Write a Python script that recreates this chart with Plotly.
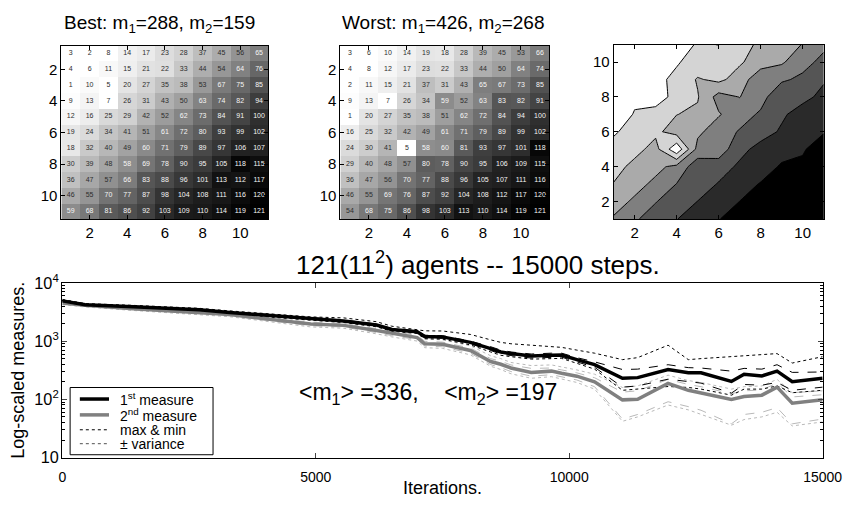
import plotly.graph_objects as go

FONT = "Liberation Sans, Arial, sans-serif"

# ---------------- data ----------------
grid = list(range(1, 12))

best = [
    [3, 2, 8, 14, 17, 23, 28, 37, 45, 56, 65],
    [4, 6, 11, 15, 21, 22, 33, 44, 54, 64, 76],
    [1, 10, 5, 20, 27, 35, 38, 53, 67, 75, 85],
    [9, 13, 7, 26, 31, 43, 50, 63, 74, 82, 94],
    [12, 16, 25, 29, 42, 52, 62, 73, 84, 91, 100],
    [19, 24, 34, 41, 51, 61, 72, 80, 93, 99, 102],
    [18, 32, 40, 49, 60, 71, 79, 89, 97, 106, 107],
    [30, 39, 48, 58, 69, 78, 90, 95, 105, 118, 115],
    [36, 47, 57, 66, 83, 88, 96, 101, 113, 112, 117],
    [46, 55, 70, 77, 87, 98, 104, 108, 111, 116, 120],
    [59, 68, 81, 86, 92, 103, 109, 110, 114, 119, 121],
]

worst = [
    [3, 6, 10, 14, 19, 18, 28, 39, 45, 53, 66],
    [4, 8, 12, 17, 23, 22, 33, 44, 50, 64, 74],
    [2, 11, 15, 21, 37, 31, 43, 65, 67, 73, 85],
    [9, 13, 7, 26, 34, 59, 52, 63, 83, 82, 91],
    [1, 20, 27, 35, 38, 51, 62, 72, 84, 94, 100],
    [16, 25, 32, 42, 49, 61, 71, 79, 89, 99, 102],
    [24, 30, 41, 5, 58, 60, 81, 93, 97, 101, 118],
    [29, 40, 48, 57, 80, 78, 90, 95, 106, 109, 115],
    [36, 47, 56, 70, 77, 88, 96, 105, 107, 111, 116],
    [46, 55, 69, 76, 87, 92, 104, 108, 112, 117, 120],
    [54, 68, 75, 86, 98, 103, 113, 110, 114, 119, 121],
]

iters = [0, 450, 1400, 2700, 3300, 4900, 5550, 6200, 6500, 7000, 7150, 7500,
         8050, 8450, 8650, 8850, 9250, 9650, 9850, 10150, 10500, 11050, 11350,
         11950, 12350, 12600, 13200, 13450, 13800, 14100, 14400, 15000]

m1 = [4900, 4200, 3900, 3450, 3100, 2400, 2220, 1890, 1580, 1450, 1200, 1180,
      950, 740, 650, 610, 555, 570, 575, 480, 395, 230, 236,
      325, 286, 286, 203, 269, 252, 305, 201, 230]
m1_max = [5200, 4400, 4100, 3650, 3300, 2600, 2500, 2150, 1800, 1600, 1500, 1490,
          1300, 1050, 950, 900, 850, 800, 780, 700, 620, 480, 520,
          850, 480, 500, 540, 560, 580, 610, 420, 540]
m1_min = [4700, 4000, 3700, 3250, 2900, 2250, 2080, 1760, 1470, 1350, 1100, 1080,
          860, 650, 570, 540, 490, 500, 505, 415, 330, 143, 150,
          166, 160, 150, 118, 150, 150, 170, 130, 143]
m1_pvar = [5000, 4300, 4000, 3550, 3200, 2480, 2300, 1960, 1640, 1500, 1260, 1240,
           1000, 800, 700, 650, 600, 620, 620, 520, 440, 325, 330,
           393, 350, 345, 305, 340, 330, 393, 290, 295]
m1_mvar = [4800, 4100, 3800, 3350, 3000, 2320, 2140, 1820, 1520, 1400, 1140, 1120,
           900, 690, 600, 565, 510, 525, 530, 440, 355, 162, 170,
           222, 200, 190, 128, 180, 175, 195, 143, 162]

m2 = [4500, 4100, 3600, 3050, 2850, 1960, 1860, 1515, 1350, 1150, 900, 880,
      690, 446, 400, 345, 290, 305, 280, 250, 200, 98, 100,
      188, 143, 130, 100, 112, 118, 162, 86, 98]
m2_max = [4900, 4400, 3900, 3350, 3100, 2250, 2120, 1750, 1570, 1350, 1080, 1050,
          830, 560, 500, 430, 380, 390, 360, 320, 270, 160, 170,
          260, 210, 195, 150, 165, 170, 220, 130, 140]
m2_min = [4200, 3850, 3350, 2800, 2620, 1750, 1660, 1330, 1180, 1000, 770, 750,
          580, 370, 325, 275, 230, 245, 225, 195, 150, 42, 50,
          80, 66, 55, 36, 45, 50, 60, 35, 41]
m2_pvar = [4700, 4250, 3750, 3200, 2980, 2100, 1990, 1630, 1460, 1250, 990, 960,
           760, 500, 450, 390, 340, 345, 320, 285, 235, 133, 140,
           220, 180, 165, 125, 140, 145, 190, 110, 120]
m2_mvar = [4300, 3950, 3450, 2900, 2720, 1830, 1740, 1400, 1240, 1060, 820, 800,
           620, 395, 350, 300, 250, 265, 245, 215, 165, 46, 55,
           91, 75, 65, 38, 55, 60, 72, 38, 46]

x_ticks_bottom = [0, 5000, 10000, 15000]
x_ticktext_bottom = ["0", "5000", "10000", "15000"]
grid_ticks = [2, 4, 6, 8, 10]

legend_labels = ["1<sup>st</sup> measure", "2<sup>nd</sup> measure", "max &amp; min", "± variance"]

# ---------------- figure ----------------
W, H = 866, 506
def px_x(p):
    return p / W
def px_y(p):
    return 1 - p / H

gray_scale = [[0, "white"], [1, "black"]]
GRAY = "rgb(128,128,128)"
LIGHT = "rgb(185,185,185)"

fig = go.Figure()

def add_matrix(mat, xa, ya):
    fig.add_trace(go.Heatmap(z=mat, x=grid, y=grid, colorscale=gray_scale, zmin=8, zmax=121,
                             showscale=False, hoverinfo="skip", xaxis=xa, yaxis=ya))
    xs, ys, ts, cs = [], [], [], []
    for r, row in enumerate(mat):
        for c, v in enumerate(row):
            xs.append(grid[c]); ys.append(grid[r]); ts.append(str(v))
            cs.append("rgb(245,245,245)" if v >= 58 else "rgb(45,45,45)")
    fig.add_trace(go.Scatter(x=xs, y=ys, text=ts, mode="text", showlegend=False,
                             textfont=dict(size=7, family=FONT, color=cs),
                             hoverinfo="skip", xaxis=xa, yaxis=ya))

add_matrix(best, "x", "y")
add_matrix(worst, "x2", "y2")

# filled contour of the worst map (row 1 drawn at the top): 7 gray bands
NB = 7
zlo, zhi = 1, 121
step = (zhi - zlo) / NB
flip = worst[::-1]
fig.add_trace(go.Contour(z=flip, x=grid, y=grid, colorscale=gray_scale, autocontour=False,
                         contours=dict(start=zlo + step, end=zlo + (NB - 1) * step + 0.01,
                                       size=step, coloring="fill", showlines=True),
                         line=dict(color="black", width=1, smoothing=0), showscale=False,
                         hoverinfo="skip", xaxis="x3", yaxis="y3"))

def add_line(y, color, width, dash):
    fig.add_trace(go.Scatter(x=iters, y=y, mode="lines",
                             line=dict(color=color, width=width, dash=dash),
                             showlegend=False, xaxis="x4", yaxis="y4", hoverinfo="skip"))

add_line(m2_max, LIGHT, 1, "dot")
add_line(m2_min, LIGHT, 1, "dot")
add_line(m2_pvar, LIGHT, 1, "dash")
add_line(m2_mvar, LIGHT, 1, "dash")
add_line(m1_max, "black", 1, "dot")
add_line(m1_min, "black", 1, "dot")
add_line(m1_pvar, "black", 1, "dash")
add_line(m1_mvar, "black", 1, "dash")
add_line(m2, GRAY, 3.5, "solid")
add_line(m1, "black", 3.5, "solid")

ax_common = dict(showline=True, linecolor="black", linewidth=1, mirror="ticks",
                 ticks="inside", ticklen=4, tickcolor="black", showgrid=False,
                 zeroline=False, tickfont=dict(size=15, family=FONT, color="black"))

# manual legend (box + samples + labels)
LX0, LX1, LY0, LY1 = 68, 215, 392, 462
rows_y = [404, 420.5, 436, 450.5]
styles = [("black", 3.5, "solid"), (GRAY, 3.5, "solid"), ("black", 1, "dot"), ("rgb(80,80,80)", 1, "dot")]
shapes = [dict(type="rect", xref="paper", yref="paper", x0=px_x(LX0), x1=px_x(LX1),
               y0=px_y(LY1), y1=px_y(LY0), fillcolor="white", line=dict(color="black", width=1))]
annotations = []
for yy, (col, w, d), lab in zip(rows_y, styles, legend_labels):
    shapes.append(dict(type="line", xref="paper", yref="paper", x0=px_x(78), x1=px_x(108),
                       y0=px_y(yy), y1=px_y(yy), line=dict(color=col, width=w, dash=d)))
    annotations.append(dict(text=lab, x=px_x(117), y=px_y(yy), xanchor="left", yanchor="middle",
                            xref="paper", yref="paper", showarrow=False,
                            font=dict(size=14, family=FONT, color="black")))

def ann(text, x, y, size, angle=0):
    return dict(text=text, x=px_x(x), y=px_y(y), xanchor="center", yanchor="middle",
                xref="paper", yref="paper", showarrow=False, textangle=angle,
                font=dict(size=size, family=FONT, color="black"))

annotations += [
    ann("Best: m<sub>1</sub>=288, m<sub>2</sub>=159", 160, 14, 19),
    ann("Worst: m<sub>1</sub>=426, m<sub>2</sub>=268", 451, 14, 19),
    ann("121(11<sup>2</sup>) agents -- 15000 steps.", 488, 263, 26),
    ann("&lt;m<sub>1</sub>&gt; =336,&nbsp;&nbsp;&nbsp; &lt;m<sub>2</sub>&gt; =197", 436, 398, 23),
    ann("Iterations.", 451, 497, 18),
    ann("Log-scaled measures.", 15, 374, 18, -90),
]

fig.update_layout(
    width=W, height=H, margin=dict(l=0, r=0, t=0, b=0),
    paper_bgcolor="white", plot_bgcolor="white",
    font=dict(family=FONT, color="black"),
    showlegend=False,
    xaxis=dict(domain=[px_x(59), px_x(272)], range=[0.5, 11.5], tickvals=grid_ticks,
               anchor="y", **ax_common),
    yaxis=dict(domain=[px_y(217), px_y(36)], range=[11.5, 0.5], tickvals=grid_ticks,
               anchor="x", **ax_common),
    xaxis2=dict(domain=[px_x(346), px_x(561)], range=[0.5, 11.5], tickvals=grid_ticks,
                anchor="y2", **ax_common),
    yaxis2=dict(domain=[px_y(217), px_y(36)], range=[11.5, 0.5], tickvals=grid_ticks,
                anchor="x2", **ax_common),
    xaxis3=dict(domain=[px_x(627), px_x(843)], range=[1, 11], tickvals=grid_ticks,
                anchor="y3", **ax_common),
    yaxis3=dict(domain=[px_y(216.5), px_y(35)], range=[1, 11], tickvals=grid_ticks,
                anchor="x3", **ax_common),
    xaxis4=dict(domain=[px_x(60), px_x(842)], range=[0, 15000], tickvals=x_ticks_bottom,
                ticktext=x_ticktext_bottom, ticklabelstandoff=7,
                anchor="y4", showline=True, linecolor="black", mirror="ticks",
                ticks="inside", ticklen=5, showgrid=False, zeroline=False,
                tickfont=dict(size=14, family=FONT, color="black")),
    yaxis4=dict(domain=[px_y(465), px_y(283)], type="log", range=[1, 4], dtick=1,
                exponentformat="power", anchor="x4", showline=True, linecolor="black",
                mirror="ticks", ticks="inside", ticklen=5, showgrid=False, zeroline=False,
                minor=dict(ticks="inside", ticklen=3, dtick="D1", tickcolor="black", showgrid=False),
                tickfont=dict(size=13, family=FONT, color="black")),
    shapes=shapes,
    annotations=annotations,
)

fig.write_html("out.html")
